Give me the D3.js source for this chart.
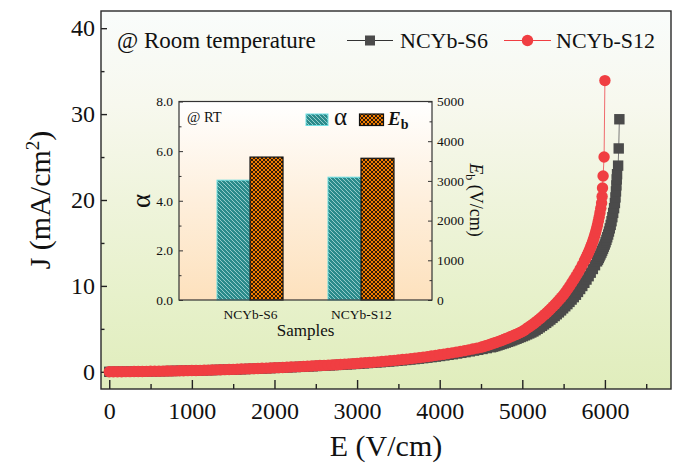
<!DOCTYPE html>
<html><head><meta charset="utf-8">
<script src="https://cdn.jsdelivr.net/npm/d3@7"></script>
<style>html,body{margin:0;padding:0;background:#fff;} svg{display:block;} svg text{font-family:"Liberation Serif","Times New Roman",Times,serif;}</style>
</head><body><svg id="chart" width="676" height="466"></svg>
<script>
// ---------- main chart data ----------
const fieldS12 = [
 0,50,100,150,200,250,300,350,400,450,
 500,550,600,650,700,750,800,850,900,950,
 1000,1050,1100,1150,1200,1250,1300,1350,1400,1450,
 1500,1550,1600,1650,1700,1750,1800,1850,1900,1950,
 2000,2050,2100,2150,2200,2250,2300,2350,2400,2450,
 2500,2550,2600,2650,2700,2750,2800,2850,2900,2950,
 3000,3050,3100,3150,3200,3250,3300,3350,3400,3450,
 3500,3550,3600,3650,3700,3750,3800,3850,3900,3950,
 4000,4050,4100,4150,4200,4250,4300,4350,4400,4450,
 4500,
 4525,4550,4575,4600,4625,4650,4675,4700,4725,4750,
 4775,4800,4825,4850,4875,4900,4925,4950,4975,5000,
 5025,5050,5075,5100,5125,5150,5175,5200,5225,5250,
 5275,5300,5325,5350,5375,5400,5425,5450,5475,5500,
 5525,5550,5575,5600,5625,5650,5675,5700,5725,5750,
 5760,5770,5780,5790,5800,5810,5820,5830,5840,5850,5860,5870,5880,5890,5900,5910,5920,5930,5940,5950,5960,
 5966,5971,5978,5990,6000
];
const fieldS6 = [
 0,51,103,154,205,257,308,359,411,462,
 514,565,616,668,719,770,822,873,924,976,
 1027,1078,1130,1181,1232,1284,1335,1386,1438,1489,
 1541,1592,1643,1695,1746,1797,1849,1900,1951,2003,
 2054,2105,2157,2208,2259,2311,2362,2413,2465,2516,
 2568,2619,2670,2722,2773,2824,2876,2927,2978,3030,
 3081,3132,3184,3235,3286,3338,3389,3440,3492,3543,
 3595,3646,3697,3749,3800,3851,3903,3954,4005,4057,
 4108,4159,4211,4262,4313,4365,4416,4467,4519,4570,
 4622,
 4647,4673,4699,4724,4750,4776,4801,4827,4853,4878,
 4904,4930,4955,4981,5007,5032,5058,5084,5109,5135,
 5161,5186,5212,5238,5263,5289,5315,5340,5366,5392,
 5417,5443,5469,5494,5520,5546,5571,5597,5623,5649,
 5674,5700,5726,5751,5777,5803,5828,5854,5880,5905,
 5916,5926,5936,5946,5957,5967,5977,5987,5998,6008,6018,6028,6039,6049,6059,6070,6080,6090,6100,6111,6121,
 6128,6134,6139,6143,6147,6160,6167,6175
];
// current density (mA/cm2)
const currentBody = [
 0.00,0.005,0.01,0.015,0.02,0.025,0.03,0.04,0.045,0.05,
 0.06,0.065,0.07,0.08,0.09,0.10,0.11,0.12,0.13,0.14,
 0.15,0.16,0.17,0.19,0.20,0.21,0.23,0.24,0.25,0.27,
 0.28,0.30,0.32,0.34,0.35,0.37,0.39,0.41,0.43,0.45,
 0.47,0.49,0.51,0.54,0.56,0.58,0.60,0.63,0.65,0.68,
 0.70,0.73,0.75,0.78,0.81,0.83,0.86,0.89,0.92,0.95,
 0.98,1.02,1.05,1.09,1.12,1.16,1.20,1.24,1.29,1.33,
 1.38,1.43,1.48,1.53,1.59,1.65,1.71,1.77,1.84,1.91,
 1.98,2.05,2.13,2.21,2.29,2.38,2.47,2.56,2.66,2.76,
 2.86,
 2.93,3.00,3.08,3.16,3.24,3.32,3.40,3.49,3.57,3.66,
 3.76,3.85,3.95,4.05,4.15,4.25,4.36,4.47,4.58,4.70,
 4.85,5.01,5.18,5.35,5.52,5.70,5.89,6.08,6.28,6.49,
 6.70,6.92,7.15,7.39,7.63,7.88,8.14,8.41,8.69,8.97,
 9.30,9.64,9.99,10.36,10.74,11.13,11.54,11.97,12.41,12.86,
 13.05,13.25,13.45,13.66,13.87,14.10,14.33,14.57,14.82,15.08,15.36,15.66,15.98,16.33,16.70,17.10,17.53,18.00,18.50,19.05,19.65
];
const currentTailS12 = [20.4,21.4,22.8,25.0,33.9];
const currentTailS6 = [20.3,21.0,21.7,22.4,23.0,24.0,26.0,29.4];
const currentS12 = currentBody.concat(currentTailS12);
const currentS6 = currentBody.concat(currentTailS6);

const seriesNames = ["NCYb-S6","NCYb-S12"];
const xTicks = [0,1000,2000,3000,4000,5000,6000];
const xMinor = [500,1500,2500,3500,4500,5500,6500];
const yTicks = [0,10,20,30,40];
const yMinor = [5,15,25,35];

// ---------- inset data ----------
const samples = ["NCYb-S6","NCYb-S12"];
const alphaValues = [4.83, 4.95];
const ebValues = [3600, 3570];
const insetLeftTicks = [0,2,4,6,8];
const insetLeftMinor = [1,3,5,7];
const insetRightTicks = [0,1000,2000,3000,4000,5000];
const insetRightMinor = [500,1500,2500,3500,4500];

// ---------- drawing ----------
const svg = d3.select("#chart");
const defs = svg.append("defs");

const bg = defs.append("linearGradient").attr("id","bgMain").attr("x1",0).attr("y1",0).attr("x2",0).attr("y2",1);
[["0%","#f9fcfb"],["25%","#f7f8ee"],["50%","#eff4dc"],["75%","#e7f1cb"],["100%","#e0edbc"]]
  .forEach(s=>bg.append("stop").attr("offset",s[0]).attr("stop-color",s[1]));
const bgi = defs.append("linearGradient").attr("id","bgInset").attr("x1",0).attr("y1",0).attr("x2",0).attr("y2",1);
[["0%","#ffffff"],["50%","#feefdc"],["100%","#fde1bd"]]
  .forEach(s=>bgi.append("stop").attr("offset",s[0]).attr("stop-color",s[1]));

const pA = defs.append("pattern").attr("id","hatchA").attr("patternUnits","userSpaceOnUse").attr("width",4).attr("height",4);
pA.append("rect").attr("width",4).attr("height",4).attr("fill","#2a8b8b");
pA.append("path").attr("d","M0,0L4,4M-1,3L1,5M3,-1L5,1").attr("stroke","#9fd3d1").attr("stroke-width",0.9);
const pB = defs.append("pattern").attr("id","hatchB").attr("patternUnits","userSpaceOnUse").attr("width",4).attr("height",4);
pB.append("rect").attr("width",4).attr("height",4).attr("fill","#f27d00");
pB.append("path").attr("d","M0,0L4,4M4,0L0,4").attr("stroke","#1a1008").attr("stroke-width",0.9);

const L = 101, R = 671, T = 11, B = 389;
const x = d3.scaleLinear().domain([-100, 6800]).range([L, R]);
const y = d3.scaleLinear().domain([-2, 42]).range([B, T]);

svg.append("rect").attr("x",L).attr("y",T).attr("width",R-L).attr("height",B-T).attr("fill","url(#bgMain)");

function styleAxis(g, size, color) {
  g.select(".domain").remove();
  g.selectAll("line").attr("stroke", color).attr("stroke-width", size.sw);
  g.selectAll("text").attr("font-family", null).style("font-size", size.fs + "px").attr("fill", "#111");
}

// axes
const gx = svg.append("g").attr("transform",`translate(0,${B})`)
  .call(d3.axisBottom(x).tickValues(xTicks).tickSize(-9).tickPadding(13).tickFormat(d3.format("d")));
const gxm = svg.append("g").attr("transform",`translate(0,${B})`)
  .call(d3.axisBottom(x).tickValues(xMinor).tickSize(-5).tickFormat(""));
const gy = svg.append("g").attr("transform",`translate(${L},0)`)
  .call(d3.axisLeft(y).tickValues(yTicks).tickSize(-6).tickPadding(6).tickFormat(d3.format("d")));
const gym = svg.append("g").attr("transform",`translate(${L},0)`)
  .call(d3.axisLeft(y).tickValues(yMinor).tickSize(-3.5).tickFormat(""));
[gx,gxm,gy,gym].forEach(g=>styleAxis(g, {sw:1.4, fs:24}, "#222"));

// curves
const series = [
  {name: seriesNames[0], E: fieldS6, J: currentS6, color:"#4b4b4b", line:"#7a7a7a", shape:"square"},
  {name: seriesNames[1], E: fieldS12, J: currentS12, color:"#f03e42", line:"#f06a6d", shape:"circle"}
];
const lineGen = d3.line().x(d=>x(d[0])).y(d=>y(d[1]));
series.forEach(s=>{
  const pts = s.E.map((e,i)=>[e, s.J[i]]);
  svg.append("path").attr("d", lineGen(pts)).attr("fill","none").attr("stroke", s.line).attr("stroke-width",1);
  const g = svg.append("g");
  if (s.shape === "square") {
    g.selectAll("rect").data(pts).join("rect")
      .attr("x", d=>x(d[0])-5.2).attr("y", d=>y(d[1])-5.2).attr("width",10.4).attr("height",10.4)
      .attr("fill", s.color);
  } else {
    g.selectAll("circle").data(pts).join("circle")
      .attr("cx", d=>x(d[0])).attr("cy", d=>y(d[1])).attr("r",5.7).attr("fill", s.color);
  }
});

// frame
svg.append("rect").attr("x",L).attr("y",T).attr("width",R-L).attr("height",B-T)
  .attr("fill","none").attr("stroke","#2a2a2a").attr("stroke-width",1.4);

// axis titles
svg.append("text").attr("x",(L+R)/2).attr("y",456).attr("text-anchor","middle")
  .style("font-size","30px").attr("fill","#111").text("E (V/cm)");
const yt = svg.append("text").attr("transform","translate(50,200) rotate(-90)").attr("text-anchor","middle")
  .style("font-size","30px").attr("fill","#111");
yt.append("tspan").text("J (mA/cm");
yt.append("tspan").attr("dy",-11).style("font-size","19px").text("2");
yt.append("tspan").attr("dy",11).text(")");

// legend
svg.append("text").attr("x",117).attr("y",48).style("font-size","23px").attr("fill","#111").text("@ Room temperature");
const lg = [{x0:347, x1:393, tx:400}, {x0:504, x1:551, tx:556}];
series.forEach((s,i)=>{
  const l = lg[i], cy = 40.5, cx = (l.x0+l.x1)/2;
  svg.append("line").attr("x1",l.x0).attr("x2",l.x1).attr("y1",cy).attr("y2",cy).attr("stroke", i===0?"#333":"#f03e42").attr("stroke-width",1.2);
  if (s.shape==="square") svg.append("rect").attr("x",cx-5).attr("y",cy-5).attr("width",10).attr("height",10).attr("fill",s.color);
  else svg.append("circle").attr("cx",cx).attr("cy",cy).attr("r",5.7).attr("fill",s.color);
  svg.append("text").attr("x",l.tx).attr("y",48).style("font-size","22px").attr("fill","#111").text(s.name);
});

// ---------- inset ----------
const iL = 179, iR = 432, iT = 101.5, iB = 300;
const xi = d3.scalePoint().domain(samples).range([iL, iR]).padding(0.64);
const yA = d3.scaleLinear().domain([0, 8]).range([iB, iT]);
const yE = d3.scaleLinear().domain([0, 5000]).range([iB, iT]);
const bw = 33;

svg.append("rect").attr("x",iL).attr("y",iT).attr("width",iR-iL).attr("height",iB-iT).attr("fill","url(#bgInset)");

svg.append("g").selectAll("rect").data(samples).join("rect")
  .attr("x", d=>xi(d)-bw).attr("y", (d,i)=>yA(alphaValues[i])).attr("width", bw)
  .attr("height", (d,i)=>iB - yA(alphaValues[i]))
  .attr("fill","url(#hatchA)").attr("stroke","#6fe0e3").attr("stroke-width",1);
svg.append("g").selectAll("rect").data(samples).join("rect")
  .attr("x", d=>xi(d)).attr("y", (d,i)=>yE(ebValues[i])).attr("width", bw)
  .attr("height", (d,i)=>iB - yE(ebValues[i]))
  .attr("fill","url(#hatchB)").attr("stroke","#111").attr("stroke-width",1.2);

const ga = svg.append("g").attr("transform",`translate(${iL},0)`)
  .call(d3.axisLeft(yA).tickValues(insetLeftTicks).tickSize(-4).tickPadding(6).tickFormat(d3.format(".1f")));
const gam = svg.append("g").attr("transform",`translate(${iL},0)`)
  .call(d3.axisLeft(yA).tickValues(insetLeftMinor).tickSize(-2.5).tickFormat(""));
const ge = svg.append("g").attr("transform",`translate(${iR},0)`)
  .call(d3.axisRight(yE).tickValues(insetRightTicks).tickSize(-4).tickPadding(5).tickFormat(d3.format("d")));
const gem = svg.append("g").attr("transform",`translate(${iR},0)`)
  .call(d3.axisRight(yE).tickValues(insetRightMinor).tickSize(-2.5).tickFormat(""));
const gc = svg.append("g").attr("transform",`translate(0,${iB})`)
  .call(d3.axisBottom(xi).tickSize(0).tickPadding(9));
[ga,gam,ge,gem,gc].forEach(g=>styleAxis(g, {sw:1, fs:13.5}, "#333"));
svg.append("rect").attr("x",iL).attr("y",iT).attr("width",iR-iL).attr("height",iB-iT)
  .attr("fill","none").attr("stroke","#333").attr("stroke-width",1.2);

svg.append("text").attr("x",187).attr("y",122).style("font-size","14.5px").attr("fill","#111").text("@ RT");
svg.append("text").attr("transform","translate(150,201) rotate(-90)").attr("text-anchor","middle")
  .style("font-size","27px").attr("fill","#111").text("α");
const et = svg.append("text").attr("transform","translate(470,200) rotate(90)").attr("text-anchor","middle")
  .style("font-size","18px").attr("fill","#111");
et.append("tspan").attr("font-style","italic").text("E");
et.append("tspan").style("font-size","12px").attr("dy",4).text("b");
et.append("tspan").attr("dy",-4).text(" (V/cm)");
svg.append("text").attr("x",(iL+iR)/2).attr("y",336).attr("text-anchor","middle")
  .style("font-size","17px").attr("fill","#111").text("Samples");

// inset legend
svg.append("rect").attr("x",306).attr("y",114).attr("width",22).attr("height",11.5)
  .attr("fill","url(#hatchA)").attr("stroke","#6fe0e3").attr("stroke-width",1);
svg.append("text").attr("x",334).attr("y",125).style("font-size","25px").attr("fill","#111").text("α");
svg.append("rect").attr("x",359.5).attr("y",114).attr("width",24).attr("height",11.5)
  .attr("fill","url(#hatchB)").attr("stroke","#111").attr("stroke-width",1.2);
const lt = svg.append("text").attr("x",388).attr("y",125).style("font-size","19px").attr("font-weight","bold").attr("fill","#111");
lt.append("tspan").attr("font-style","italic").text("E");
lt.append("tspan").style("font-size","14px").attr("dy",4).text("b");
</script></body></html>
